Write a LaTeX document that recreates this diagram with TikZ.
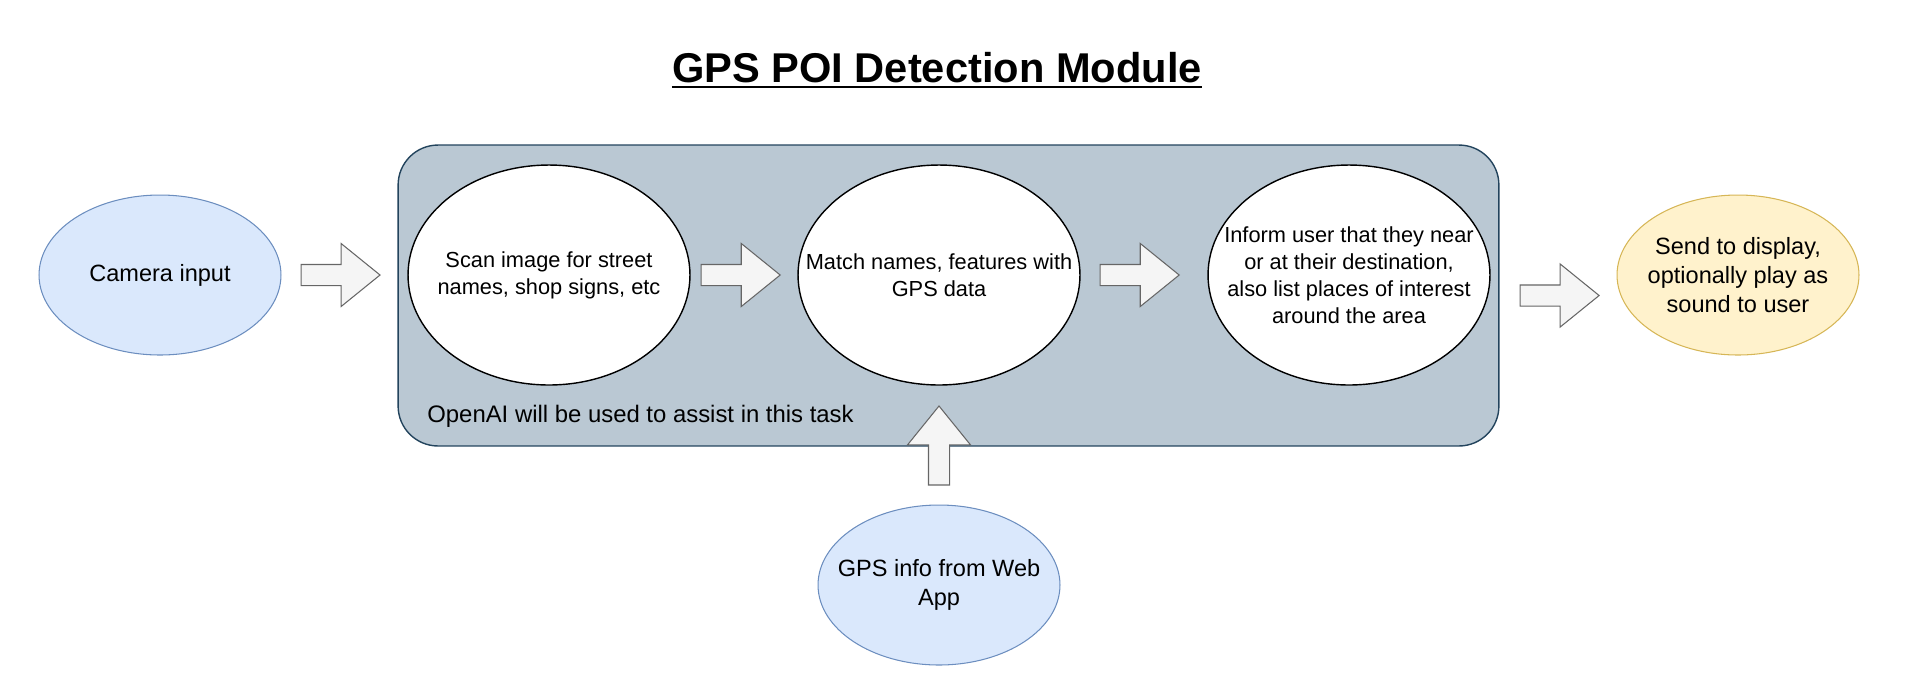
\documentclass[tikz,border=0pt]{standalone}
\usepackage{fontspec}
\setmainfont{Liberation Sans}
\usepackage{tikz}
\usetikzlibrary{positioning,shapes.geometric,shapes.arrows,calc}
\usepackage{xcolor}
\definecolor{inblue}{HTML}{DAE8FC}
\definecolor{inblueline}{HTML}{6C8EBF}
\definecolor{outyellow}{HTML}{FFF2CC}
\definecolor{outyellowline}{HTML}{D6B656}
\definecolor{boxgray}{HTML}{BAC8D3}
\definecolor{boxline}{HTML}{23445D}
\definecolor{arrfill}{HTML}{F5F5F5}
\definecolor{arrline}{HTML}{666666}

\begin{document}
\begin{tikzpicture}[x=0.02cm, y=-0.02cm,
  ellbase/.style={ellipse, inner sep=0pt, line width=0.6pt},
  inputnode/.style={ellbase, draw=inblueline, fill=inblue, minimum width=4.84cm, minimum height=3.2cm},
  outputnode/.style={ellbase, draw=outyellowline, fill=outyellow, minimum width=4.84cm, minimum height=3.2cm},
  procnode/.style={ellbase, draw=black, fill=white, line width=0.8pt, minimum width=5.64cm, minimum height=4.4cm},
  outertext/.style={align=center, font=\fontsize{13.4pt}{16.3pt}\selectfont},
  innertext/.style={align=center, font=\fontsize{12.4pt}{15.3pt}\selectfont},
  blockarr/.style={single arrow, draw=arrline, fill=arrfill, line width=0.6pt,
    inner xsep=0pt, inner ysep=0.2cm, minimum height=1.58cm,
    single arrow head extend=0.42cm, single arrow tip angle=78, anchor=west}]

\useasboundingbox (0,0) rectangle (1910,698);

% Title
\node[inner sep=0pt, anchor=base, font=\fontsize{23.7pt}{28pt}\selectfont\bfseries] (title) at (937,82) {GPS POI Detection Module};
\draw[line width=1.4pt] ([yshift=-2.8pt]title.base west) -- ([yshift=-2.8pt]title.base east);

% OpenAI container
\node[draw=boxline, fill=boxgray, line width=0.8pt, rounded corners=0.8cm,
  minimum width=22.02cm, minimum height=6.02cm, inner sep=0pt] (aibox) at (948.5,295.5) {};
\node[anchor=base west, inner sep=0pt, font=\fontsize{13.6pt}{17pt}\selectfont] (aitext) at (427,422) {OpenAI will be used to assist in this task};

% Input and output
\node[inputnode, label={[outertext]center:{Camera input}}] (camera) at (160,275) {};
\node[inputnode, label={[outertext]center:{GPS info from Web\\App}}] (gps) at (939,585) {};
\node[outputnode, label={[outertext]center:{Send to display,\\optionally play as\\sound to user}}] (send) at (1738,275) {};

% Processing steps
\node[procnode, label={[innertext]center:{Scan image for street\\names, shop signs, etc}}] (scan) at (549,275) {};
\node[procnode, label={[innertext]center:{Match names, features with\\GPS data}}] (match) at (939,275) {};
\node[procnode, label={[innertext]center:{Inform user that they near\\or at their destination,\\also list places of interest\\around the area}}] (inform) at (1349,275) {};

% Block arrows (tail placed just after the previous shape)
\node[blockarr] (arrcam) at ([xshift=0.38cm]camera.east) {};
\node[blockarr] (arrscan) at ([xshift=0.2cm]scan.east) {};
\node[blockarr] (arrmatch) at ([xshift=0.38cm]match.east) {};
\node[blockarr] (arrsend) at ([xshift=0.4cm]aibox.east) {};
\node[blockarr, rotate=90] (arrgps) at ([yshift=0.38cm]gps.north) {};

\end{tikzpicture}
\end{document}
